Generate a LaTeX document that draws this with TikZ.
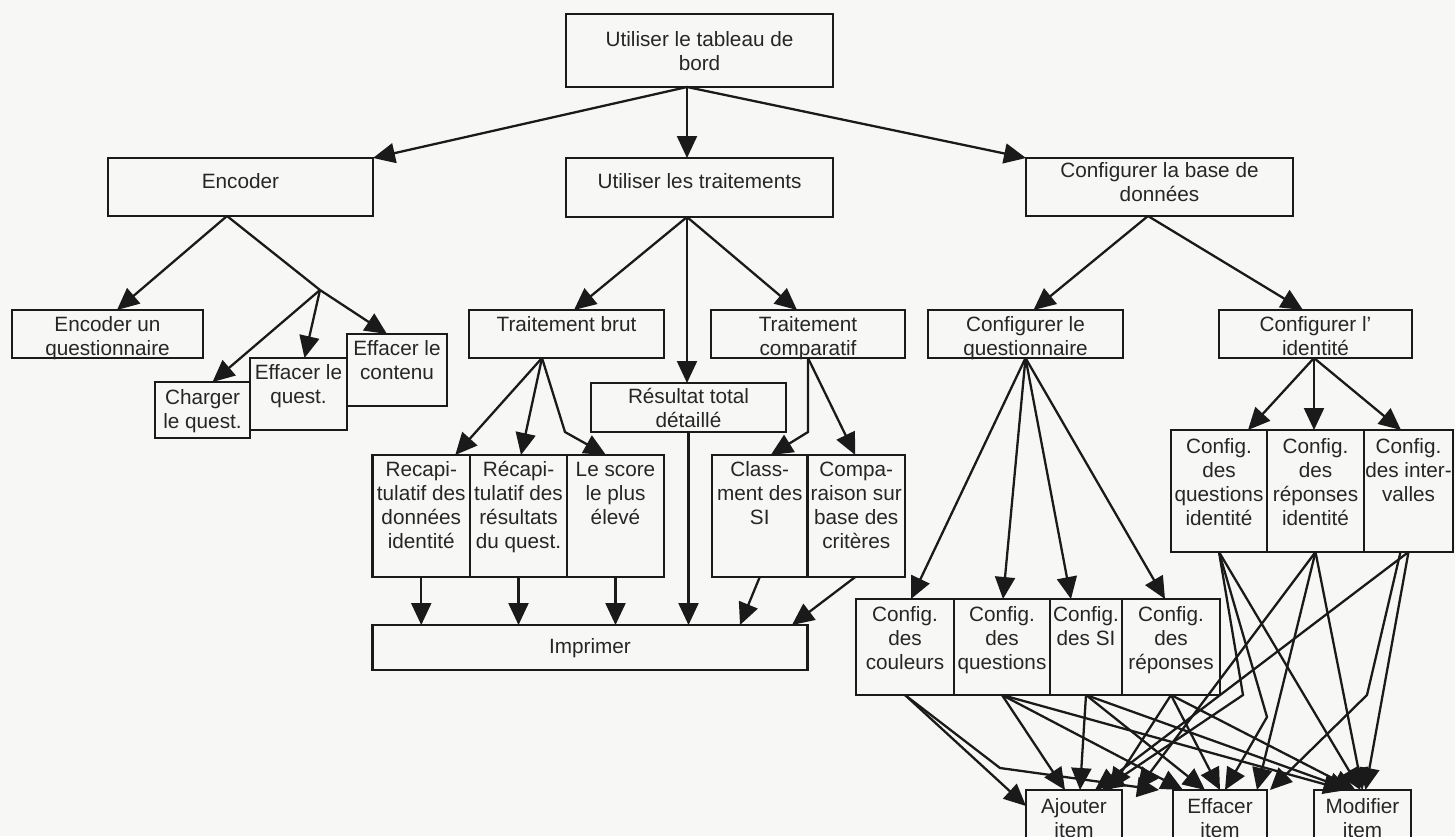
\documentclass[tikz,border=0pt]{standalone}
\usepackage{fontspec}
\setmainfont{Liberation Sans}
\usetikzlibrary{arrows.meta,calc}
\definecolor{diagramInk}{HTML}{1A1A1A}
\definecolor{diagramText}{HTML}{262626}
\definecolor{diagramPaper}{HTML}{F7F7F5}
\newlength{\pxunit}
\setlength{\pxunit}{0.02cm}
% fixed size box, text hung from the top
\newcommand{\cellText}[4][21.5]{\parbox[c][#3\pxunit][t]{#2\pxunit}{\centering\leftskip=-1cm plus 1fil\rightskip=-1cm plus 1fil\rule{0pt}{#1\pxunit}#4}}

\begin{document}
\begin{tikzpicture}[
    x=0.02cm,y=-0.02cm,
    every node/.style={font=\fontsize{11.8}{13.6}\selectfont,text=diagramText},
    task/.style={draw=diagramInk,line width=1.2pt,inner sep=0pt,outer sep=0pt},
    link/.style={draw=diagramInk,line width=1.3pt},
    flow/.style={-{Triangle[length=4.4mm,width=4mm]},draw=diagramInk,line width=1.3pt}
]
\path[use as bounding box,fill=diagramPaper] (0,0) rectangle (1455,836);

% top levels
\node[task] (root) at (699.5,50.5) {\cellText[32.5]{267}{73}{Utiliser le tableau de\\bord}};
\node[task] (encoder) at (240.5,187) {\cellText[30]{265}{58}{Encoder}};
\node[task] (traitements) at (699.5,187.5) {\cellText[30]{267}{59}{Utiliser les traitements}};
\node[task] (configbase) at (1159.5,187) {\cellText[19.5]{267}{58}{Configurer la base de\\données}};

% encoder branch
\node[task] (encquest) at (107.5,334) {\cellText{191}{48}{Encoder un\\questionnaire}};
\node[task] (charger) at (202.5,410) {\cellText[22.5]{95}{56}{Charger\\le quest.}};
\node[task] (effquest) at (298.5,394) {\cellText{97}{72}{Effacer le\\quest.}};
\node[task] (effcontenu) at (397,370) {\cellText{100}{72}{Effacer le\\contenu}};

% traitements branch
\node[task] (tbrut) at (566.5,334) {\cellText{195}{48}{Traitement brut}};
\node[task] (tcomp) at (808,334) {\cellText{194}{48}{Traitement\\comparatif}};
\node[task] (resultat) at (688.5,407.5) {\cellText[20.5]{195}{49}{Résultat total\\détaillé}};
\node[task] (recapid) at (421.25,516) {\cellText{97.5}{122}{Recapi-\\tulatif des\\données\\identité}};
\node[task] (recapres) at (518.5,516) {\cellText{97}{122}{Récapi-\\tulatif des\\résultats\\du quest.}};
\node[task] (score) at (615.5,516) {\cellText{97}{122}{Le score\\le plus\\élevé}};
\node[task] (classement) at (759.75,516) {\cellText{95.5}{122}{Class-\\ment des\\SI}};
\node[task] (comparaison) at (856.25,516) {\cellText{97.5}{122}{Compa-\\raison sur\\base des\\critères}};
\node[task] (imprimer) at (590,647.5) {\cellText[28.5]{435}{45}{Imprimer}};

% configuration branch
\node[task] (cfgquest) at (1025.5,334) {\cellText{195}{48}{Configurer le\\questionnaire}};
\node[task] (cfgid) at (1315.5,334) {\cellText{193}{48}{Configurer l’\\identité}};
\node[task] (cfgqid) at (1219,491) {\cellText[23.5]{96}{122}{Config.\\des\\questions\\identité}};
\node[task] (cfgrid) at (1315.5,491) {\cellText[23.5]{97}{122}{Config.\\des\\réponses\\identité}};
\node[task] (cfgint) at (1408.5,491) {\cellText[23.5]{89}{122}{Config.\\des inter-\\valles}};
\node[task] (cfgcoul) at (905,647) {\cellText[22.5]{98}{96}{Config.\\des\\couleurs}};
\node[task] (cfgques) at (1002,647) {\cellText[22.5]{96}{96}{Config.\\des\\questions}};
\node[task] (cfgsi) at (1086,647) {\cellText[22.5]{72}{96}{Config.\\des SI}};
\node[task] (cfgrep) at (1171,647) {\cellText[22.5]{98}{96}{Config.\\des\\réponses}};
\node[task] (ajouter) at (1074,820) {\cellText[23.5]{96}{60}{Ajouter\\item}};
\node[task] (effacer) at (1220,820) {\cellText[23.5]{94}{60}{Effacer\\item}};
\node[task] (modifier) at (1362.5,820) {\cellText[23.5]{97}{60}{Modifier\\item}};

\coordinate (encfork) at (320,290);
\coordinate (brutbend) at (565,432);
\coordinate (compbend) at (808,432);
\coordinate (coulbend) at (1000,768);
\coordinate (qidbendA) at (1243,695);
\coordinate (qidbendB) at (1267,717);
\coordinate (intbend) at (1367,695);

% root
\draw[flow] ($(root.south)+(-12.5,0)$) -- (encoder.north east);
\draw[flow] ($(root.south)+(-12.5,0)$) -- ($(traitements.north)+(-12.5,0)$);
\draw[flow] ($(root.south)+(-12.5,0)$) -- (configbase.north west);

% encoder
\draw[flow] ($(encoder.south)+(-13.5,0)$) -- ($(encquest.north)+(9.5,0)$);
\draw[link] ($(encoder.south)+(-13.5,0)$) -- (encfork);
\draw[flow] (encfork) -- ($(charger.north)+(10,0)$);
\draw[flow] (encfork) -- ($(effquest.north)+(6,0)$);
\draw[flow] (encfork) -- ($(effcontenu.north)+(-10,0)$);

% traitements
\draw[flow] ($(traitements.south)+(-12.5,0)$) -- ($(tbrut.north)+(7.5,0)$);
\draw[flow] ($(traitements.south)+(-12.5,0)$) -- ($(resultat.north)+(-1.5,0)$);
\draw[flow] ($(traitements.south)+(-12.5,0)$) -- ($(tcomp.north)+(-11,0)$);
\draw[flow] ($(tbrut.south)+(-24.5,0)$) -- ($(recapid.north)+(34,0)$);
\draw[flow] ($(tbrut.south)+(-24.5,0)$) -- ($(recapres.north)+(2.5,0)$);
\draw[flow] ($(tbrut.south)+(-24.5,0)$) -- (brutbend) -- ($(score.north)+(-9.5,0)$);
\draw[flow] (tcomp.south) -- (compbend) -- ($(classement.north)+(11,0)$);
\draw[flow] (tcomp.south) -- ($(comparaison.north)+(-1,0)$);
\foreach \src in {recapid,recapres,score,resultat}
    \draw[flow] (\src.south) -- (\src.south |- imprimer.north);
\draw[flow] (classement.south) -- ($(imprimer.north)+(150,0)$);
\draw[flow] ($(comparaison.south)+(-1,0)$) -- ($(imprimer.north)+(202,0)$);

% configuration
\draw[flow] ($(configbase.south)+(-11.5,0)$) -- ($(cfgquest.north)+(8,0)$);
\draw[flow] ($(configbase.south)+(-11.5,0)$) -- ($(cfgid.north)+(-12.5,0)$);
\foreach \dst/\dx in {cfgcoul/6,cfgques/1,cfgsi/-15,cfgrep/-6}
    \draw[flow] (cfgquest.south) -- ($(\dst.north)+(\dx,0)$);
\foreach \dst/\dx in {cfgqid/29,cfgrid/-1.5,cfgint/-7.5}
    \draw[flow] ($(cfgid.south)+(-1.5,0)$) -- ($(\dst.north)+(\dx,0)$);

% items
\foreach \src/\dst/\dx in {cfgques/ajouter/-9,cfgques/effacer/-37,cfgques/modifier/-17,
    cfgsi/ajouter/6,cfgsi/effacer/-15,cfgsi/modifier/-12,
    cfgrep/ajouter/36,cfgrep/effacer/0,cfgrep/modifier/-7,
    cfgqid/modifier/-2,cfgrid/ajouter/63,cfgrid/effacer/37,cfgrid/modifier/0,
    cfgint/ajouter/21,cfgint/modifier/3}
    \draw[flow] (\src.south) -- ($(\dst.north)+(\dx,0)$);
\draw[flow] (cfgcoul.south) -- ($(ajouter.north west)+(0,16)$);
\draw[flow] (cfgcoul.south) -- (coulbend) -- ($(effacer.north west)+(-14,0)$);
\draw[flow] (cfgqid.south) -- (qidbendA) -- ($(ajouter.north)+(28,0)$);
\draw[flow] (cfgqid.south) -- (qidbendB) -- ($(effacer.north)+(5,0)$);
\draw[flow] ($(cfgint.south)+(-8,0)$) -- (intbend) -- ($(effacer.north)+(50,0)$);
\end{tikzpicture}
\end{document}
